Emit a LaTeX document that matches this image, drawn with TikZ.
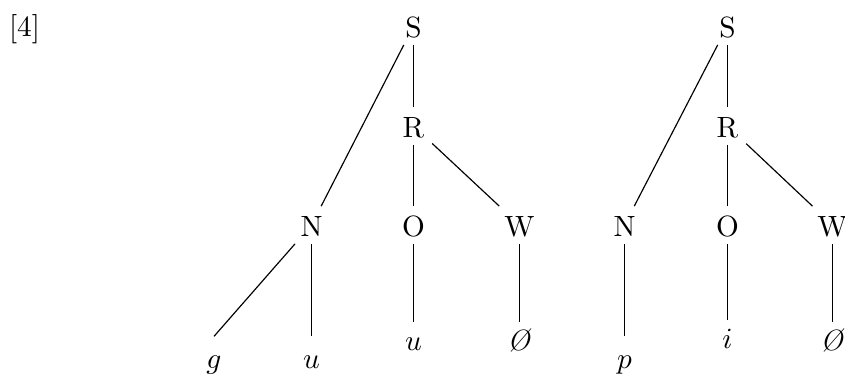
\documentclass[tikz,border=0pt]{standalone}
\usepackage{amsmath}
\begin{document}
\begin{tikzpicture}[x=0.3413pt,y=-0.3413pt,
  inner/.style={anchor=base,inner sep=2.5pt,text height=7.5pt,text depth=0pt},
  leaf/.style={anchor=base,inner sep=3pt,text height=6.5pt,text depth=1.9pt},
  lowleaf/.style={anchor=base,inner sep=3pt,text height=7.6pt,text depth=1.9pt},
  branch/.style={draw=black,line width=0.4pt}]
\useasboundingbox (0,0) rectangle (845,374);
\node[anchor=base,inner sep=0pt] (num) at (24.5,36) {[4]};
% left tree
\node[inner] (S1) at (413.5,37) {S};
\node[inner] (R1) at (413.5,137) {R};
\node[inner] (N1) at (311.5,236) {N};
\node[inner] (O1) at (413.5,236) {O};
\node[inner] (W1) at (519.5,236) {W};
\node[lowleaf] (g1) at (214,368) {$g$};
\node[lowleaf] (u1) at (311.5,368) {$\underset{\scriptscriptstyle\frown}{u}$};
\node[leaf] (u2) at (413.5,350) {$u$};
\node[leaf] (e1) at (519.5,350) {\textit{\O}};
% right tree
\node[inner] (S2) at (727.5,37) {S};
\node[inner] (R2) at (727.5,137) {R};
\node[inner] (N2) at (624.5,236) {N};
\node[inner] (O2) at (727.5,236) {O};
\node[inner] (W2) at (832.5,236) {W};
\node[lowleaf] (p2) at (624.5,368) {$p$};
\node[leaf] (i2) at (727.5,348) {$i$};
\node[leaf] (e2) at (832.5,350) {\textit{\O}};
% branches
\draw[branch] (S1) -- (N1);
\draw[branch] (S1) -- (R1);
\draw[branch] (R1) -- (O1);
\draw[branch] (R1) -- (W1);
\draw[branch] (N1) -- (g1.north);
\draw[branch] (N1) -- (u1.north);
\draw[branch] (O1) -- (u2);
\draw[branch] (W1) -- (e1);
\draw[branch] (S2) -- (N2);
\draw[branch] (S2) -- (R2);
\draw[branch] (R2) -- (O2);
\draw[branch] (R2) -- (W2);
\draw[branch] (N2) -- (p2.north);
\draw[branch] (O2) -- (i2);
\draw[branch] (W2) -- (e2);
\end{tikzpicture}
\end{document}
